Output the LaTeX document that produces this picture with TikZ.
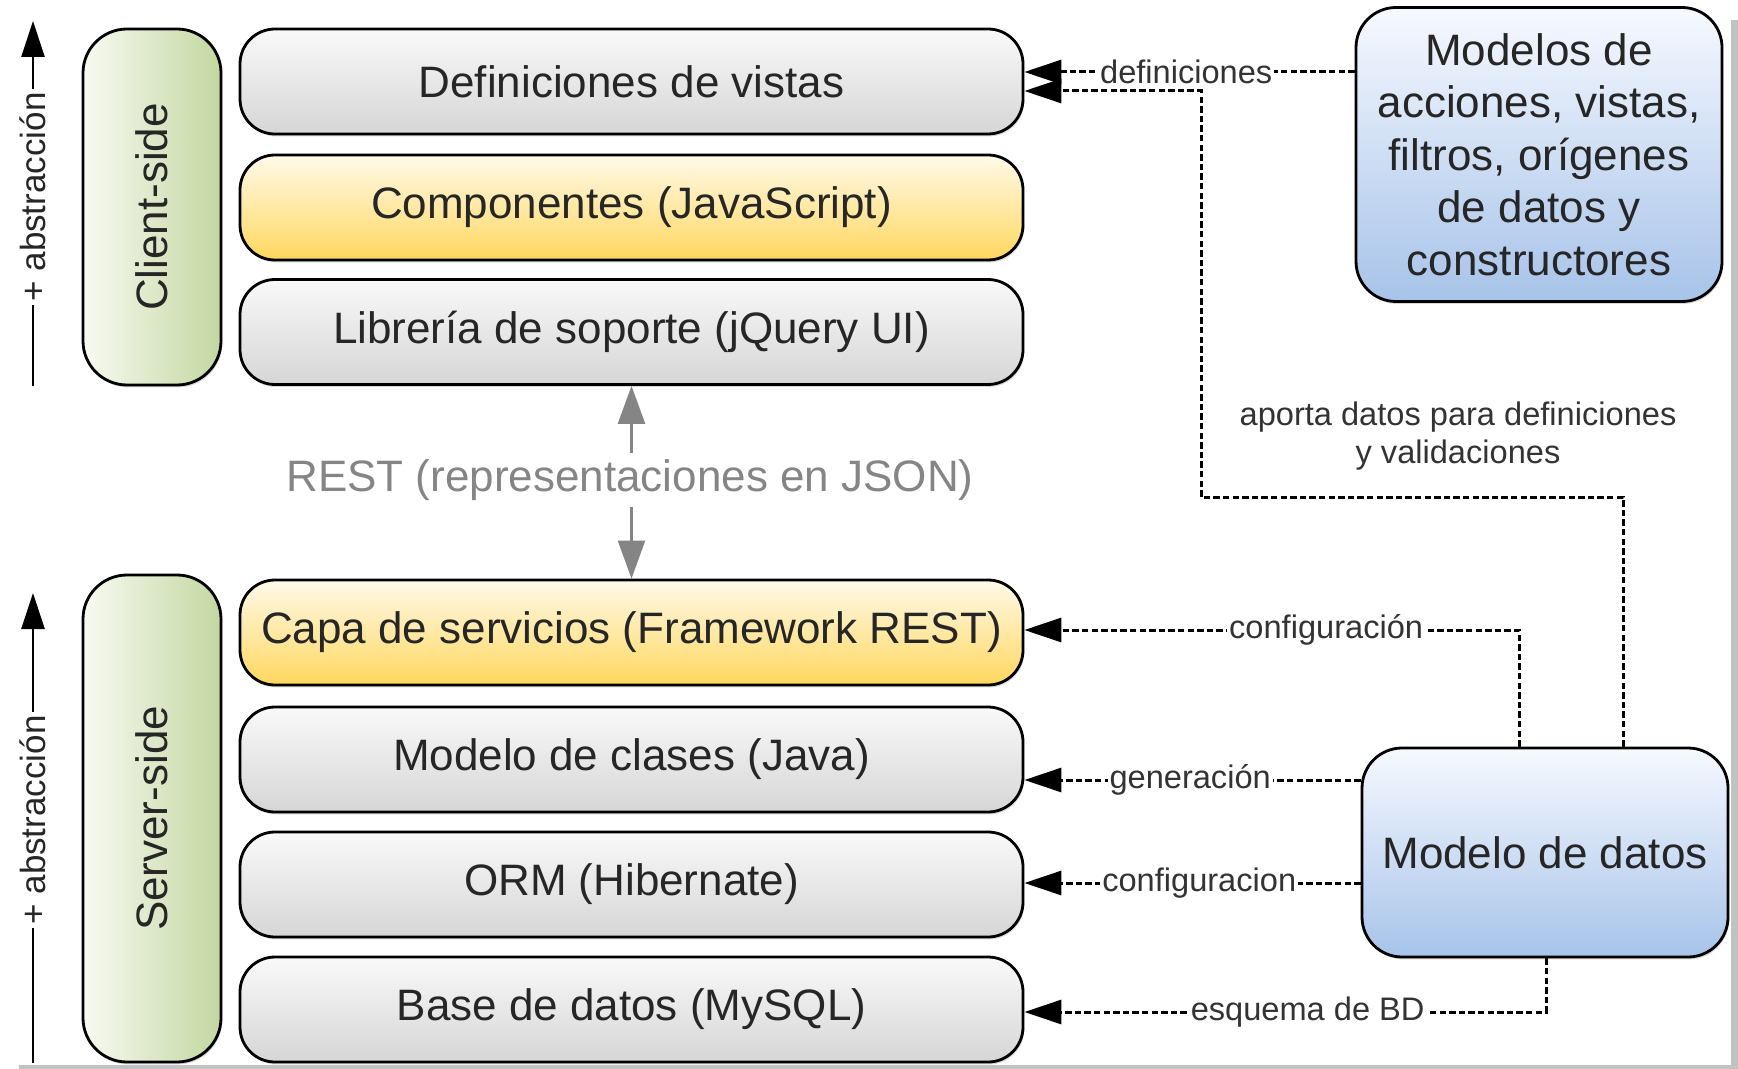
\documentclass[tikz,border=0pt]{standalone}
\usepackage{fontspec}
\setmainfont{Liberation Sans}
\usetikzlibrary{arrows.meta,calc,shadows}
\definecolor{grayTop}{HTML}{F9F9F9}
\definecolor{grayBot}{HTML}{D6D6D6}
\definecolor{yelTop}{HTML}{FFFAEA}
\definecolor{yelBot}{HTML}{FFD75E}
\definecolor{grnL}{HTML}{F8FAF2}
\definecolor{grnR}{HTML}{C3D7A1}
\definecolor{bluTop}{HTML}{F6F9FF}
\definecolor{bluBot}{HTML}{A7C3E9}
\definecolor{txtDark}{HTML}{262626}
\definecolor{lblDark}{HTML}{333333}
\definecolor{restGray}{HTML}{858585}
\definecolor{frameGray}{HTML}{C2C2C2}
\begin{document}
\begin{tikzpicture}[x=0.5pt,y=-0.5pt,
  bigfont/.style={font=\fontsize{22}{26.3}\selectfont, text=txtDark},
  smallfont/.style={font=\fontsize{16.3}{19}\selectfont, text=lblDark},
  boxshadow/.style={drop shadow={shadow xshift=0.6pt, shadow yshift=-1.2pt, opacity=0.25, fill=black!60}},
  layer/.style={draw=black, line width=1.4pt, rounded corners=17.5pt,
    minimum width=391.5pt, minimum height=52.5pt, inner sep=0pt,
    top color=grayTop, bottom color=grayBot, bigfont, boxshadow},
  yellayer/.style={layer, top color=yelTop, bottom color=yelBot},
  pill/.style={draw=black, line width=1.4pt, rounded corners=22pt,
    minimum width=69pt, inner sep=0pt, left color=grnL, right color=grnR, boxshadow},
  bluebox/.style={draw=black, line width=1.4pt, rounded corners=20pt,
    minimum width=183pt, inner sep=0pt, top color=bluTop, bottom color=bluBot,
    bigfont, align=center, boxshadow},
  conn/.style={line width=1.5pt, dash pattern=on 3.2pt off 1.6pt,
    -{Triangle[length=18.5pt,width=12pt]}},
  lbl/.style={smallfont, fill=white, inner sep=1pt},
  absarrow/.style={line width=1.3pt, -{Triangle[length=18pt,width=11.5pt]}},
  restarr/.style={draw=restGray, line width=1.2pt, -{Triangle[length=19pt,width=13.5pt]}}
]
\useasboundingbox (0,0) rectangle (1738,1069);
\fill[white] (0,0) rectangle (1738,1069);
\fill[frameGray] (1731,20) rectangle (1738,1069);
\fill[frameGray] (19,1065) rectangle (1738,1069);

% abstraction arrows
\coordinate (a1s) at (33,386);
\coordinate (a1e) at (33,21);
\coordinate (a2s) at (33,1063);
\coordinate (a2e) at (33,593);
\draw[absarrow] (a1s) -- (a1e);
\draw[absarrow] (a2s) -- (a2e);
\node[font=\fontsize{17.5}{20}\selectfont, text=txtDark, fill=white, inner sep=1.5pt, rotate=90] (abs1) at (33,197) {+ abstracción};
\node[font=\fontsize{17.5}{20}\selectfont, text=txtDark, fill=white, inner sep=1.5pt, rotate=90] (abs2) at (33,820) {+ abstracción};

% side pills
\node[pill, minimum height=178pt] (client) at (152,207) {};
\node[bigfont, rotate=90] (clienttxt) at (client.center) {Client-side};
\node[pill, minimum height=243.5pt] (server) at (152,818.5) {};
\node[bigfont, rotate=90] (servertxt) at (server.center) {Server-side};

% layers
\node[layer] (defs) at (631.5,81.5) {Definiciones de vistas};
\node[yellayer] (comp) at (631.5,207.5) {Componentes (JavaScript)};
\node[layer] (lib) at (631.5,332) {Librería de soporte (jQuery UI)};
\node[yellayer] (capa) at (631.5,632.5) {Capa de servicios (Framework REST)};
\node[layer] (clases) at (631.5,759.5) {Modelo de clases (Java)};
\node[layer] (orm) at (631.5,884.5) {ORM (Hibernate)};
\node[layer] (base) at (631.5,1009.5) {Base de datos (MySQL)};

% REST
\node[bigfont, text=restGray, inner xsep=2pt, inner ysep=3pt, text height=16pt, text depth=5pt] (rest) at (630,480) {REST (representaciones en JSON)};
\draw[restarr] (rest.north -| lib.south) -- (lib.south);
\draw[restarr] (rest.south -| capa.north) -- (capa.north);

% right boxes
\node[bluebox, minimum height=147pt] (modelos) at (1539,154.5) {Modelos de\\acciones, vistas,\\filtros, orígenes\\de datos y\\constructores};
\node[bluebox, minimum height=104.5pt] (datos) at (1545,852.5) {Modelo de datos};

% helper coordinates
\coordinate (y72) at (0,72);
\coordinate (y91) at (0,91);
\coordinate (y497) at (0,497);
\coordinate (x1201) at (1201,0);
\coordinate (x1623) at (1623,0);
\coordinate (x1519) at (1519,0);
\coordinate (y630) at (0,630);
\coordinate (y780) at (0,780);
\coordinate (y883) at (0,883);
\coordinate (x1546) at (1546,0);
\coordinate (y1012) at (0,1012);

% connectors
\draw[conn] (modelos.west |- y72) -- node[lbl, pos=0.51] {definiciones} (defs.east |- y72);
\draw[conn] (datos.north -| x1623) -- (x1623 |- y497) -- (x1201 |- y497) -- (x1201 |- y91) -- (defs.east |- y91);
\node[smallfont, align=center] (aporta) at (1458,436) {aporta datos para definiciones\\y validaciones};
\draw[conn] (datos.north -| x1519) -- (x1519 |- y630) -- node[lbl, pos=0.39] {configuración} (capa.east |- y630);
\draw[conn] (datos.west |- y780) -- node[lbl, pos=0.507] {generación} (clases.east |- y780);
\draw[conn] (datos.west |- y883) -- node[lbl, pos=0.48] {configuracion} (orm.east |- y883);
\draw[conn] (datos.south -| x1546) -- (x1546 |- y1012) -- node[lbl, pos=0.457] {esquema de BD} (base.east |- y1012);
\end{tikzpicture}
\end{document}
